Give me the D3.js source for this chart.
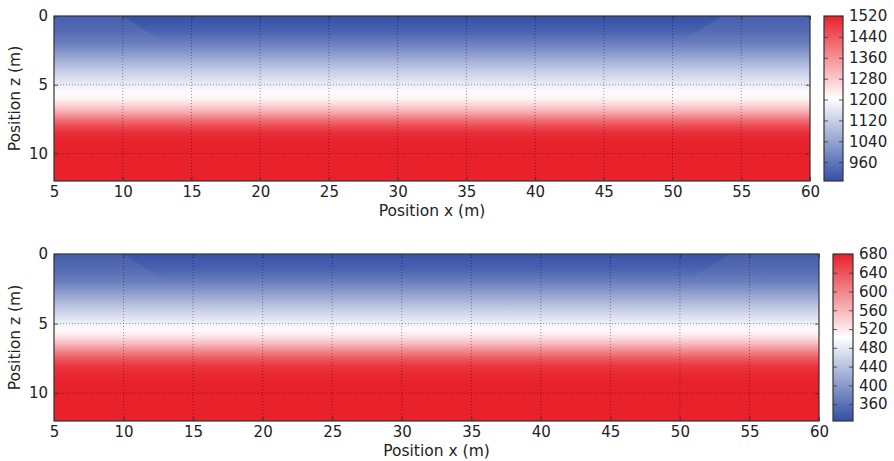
<!DOCTYPE html>
<html>
<head>
<meta charset="utf-8">
<script src="https://cdn.jsdelivr.net/npm/d3@7/dist/d3.min.js"></script>
<style>
  html, body { margin: 0; padding: 0; background: #fff; }
  svg { display: block; }
  text { font-family: "DejaVu Sans", sans-serif; fill: #222; }
</style>
</head>
<body>
<svg id="chart" width="894" height="461"></svg>
<script>
// Axis ticks
const xTicks = [5, 10, 15, 20, 25, 30, 35, 40, 45, 50, 55, 60];
const zTicks = [0, 5, 10];
const xDomain = [5, 60];
const zDomain = [0, 12];

// Depth samples (m) of the velocity profile under the covered span
const depths = [0, 1, 2, 3, 4, 5, 5.5, 6, 6.5, 7, 7.5, 8, 8.5, 9, 10, 12];
const upperProfile = [892, 918, 975, 1045, 1115, 1172, 1198, 1220, 1265, 1325, 1400, 1460, 1500, 1515, 1520, 1520];
const lowerProfile = [328, 343, 372, 412, 452, 488, 506, 527, 562, 600, 635, 660, 672, 678, 680, 680];

// Shallow profile outside the covered span (left and right flanks)
const flankDepths = [0, 1, 2];
const upperFlank = [918, 938, 975];
const lowerFlank = [340, 352, 372];

// Covered span boundaries: [x at surface, x at flank base depth]
const coverLeft = [10.0, 13.1];
const coverRight = [53.6, 50.4];

// Colour bar ranges and ticks
const upperRange = [888, 1520];
const lowerRange = [324, 680];
const upperBarTicks = [960, 1040, 1120, 1200, 1280, 1360, 1440, 1520];
const lowerBarTicks = [360, 400, 440, 480, 520, 560, 600, 640, 680];

const BLUE = "#334ea5", WHITE = "#ffffff", RED = "#e8212b";

const panels = [
  { id: "up", profile: upperProfile, flank: upperFlank, range: upperRange, barTicks: upperBarTicks,
    plot: { x0: 54, x1: 810, y0: 16, y1: 181 }, bar: { x0: 824, x1: 843 } },
  { id: "lo", profile: lowerProfile, flank: lowerFlank, range: lowerRange, barTicks: lowerBarTicks,
    plot: { x0: 54, x1: 819, y0: 254, y1: 421 }, bar: { x0: 833, x1: 853 } }
];

const svg = d3.select("#chart");
const defs = svg.append("defs");

panels.forEach(p => {
  const x = d3.scaleLinear().domain(xDomain).range([p.plot.x0, p.plot.x1]);
  const z = d3.scaleLinear().domain(zDomain).range([p.plot.y0, p.plot.y1]);
  const mid = (p.range[0] + p.range[1]) / 2;
  const colour = d3.scaleLinear().domain([p.range[0], mid, p.range[1]])
    .range([BLUE, WHITE, RED]).interpolate(d3.interpolateRgb).clamp(true);

  // vertical gradient of the main profile
  const gMain = defs.append("linearGradient").attr("id", "main-" + p.id)
    .attr("gradientUnits", "userSpaceOnUse")
    .attr("x1", 0).attr("x2", 0).attr("y1", z(zDomain[0])).attr("y2", z(zDomain[1]));
  depths.forEach((d, i) => {
    gMain.append("stop").attr("offset", (d - zDomain[0]) / (zDomain[1] - zDomain[0]))
      .attr("stop-color", colour(p.profile[i]));
  });

  // vertical gradient of the flank profile
  const fBase = flankDepths[flankDepths.length - 1];
  const gFlank = defs.append("linearGradient").attr("id", "flank-" + p.id)
    .attr("gradientUnits", "userSpaceOnUse")
    .attr("x1", 0).attr("x2", 0).attr("y1", z(0)).attr("y2", z(fBase));
  flankDepths.forEach((d, i) => {
    gFlank.append("stop").attr("offset", d / fBase).attr("stop-color", colour(p.flank[i]));
  });

  defs.append("clipPath").attr("id", "clip-" + p.id).append("rect")
    .attr("x", p.plot.x0).attr("y", p.plot.y0)
    .attr("width", p.plot.x1 - p.plot.x0).attr("height", p.plot.y1 - p.plot.y0);

  const g = svg.append("g");
  const field = g.append("g").attr("clip-path", `url(#clip-${p.id})`);

  field.append("rect")
    .attr("x", p.plot.x0).attr("y", p.plot.y0)
    .attr("width", p.plot.x1 - p.plot.x0).attr("height", p.plot.y1 - p.plot.y0)
    .attr("fill", `url(#main-${p.id})`);

  const line = d3.line().x(d => x(d[0])).y(d => z(d[1]));
  const leftFlank = [[xDomain[0], 0], [coverLeft[0], 0], [coverLeft[1], fBase], [xDomain[0], fBase]];
  const rightFlank = [[xDomain[1], 0], [coverRight[0], 0], [coverRight[1], fBase], [xDomain[1], fBase]];
  [leftFlank, rightFlank].forEach(poly => {
    field.append("path").attr("d", line(poly) + "Z").attr("fill", `url(#flank-${p.id})`);
  });

  // dotted grid
  const grid = g.append("g").attr("clip-path", `url(#clip-${p.id})`)
    .attr("stroke", "#000").attr("stroke-opacity", 0.5).attr("stroke-width", 0.8)
    .attr("stroke-dasharray", "1,2");
  xTicks.slice(1, -1).forEach(t => {
    grid.append("line").attr("x1", x(t)).attr("x2", x(t)).attr("y1", p.plot.y0).attr("y2", p.plot.y1);
  });
  zTicks.slice(1).forEach(t => {
    grid.append("line").attr("x1", p.plot.x0).attr("x2", p.plot.x1).attr("y1", z(t)).attr("y2", z(t));
  });

  // axes with inward ticks
  const xAx = g.append("g").attr("transform", `translate(0,${p.plot.y1})`)
    .call(d3.axisBottom(x).tickValues(xTicks).tickSize(-4).tickPadding(5).tickFormat(d3.format("d")));
  g.append("g").attr("transform", `translate(0,${p.plot.y0})`)
    .call(d3.axisTop(x).tickValues(xTicks).tickSize(-4).tickFormat(""));
  g.append("g").attr("transform", `translate(${p.plot.x0},0)`)
    .call(d3.axisLeft(z).tickValues(zTicks).tickSize(-4).tickPadding(6).tickFormat(d3.format("d")));
  g.append("g").attr("transform", `translate(${p.plot.x1},0)`)
    .call(d3.axisRight(z).tickValues(zTicks).tickSize(-4).tickFormat(""));
  g.selectAll(".domain").remove();
  g.selectAll(".tick line").attr("stroke", "#333").attr("stroke-width", 0.8);
  g.selectAll(".tick text").attr("font-size", 15).attr("font-family", "DejaVu Sans, sans-serif").attr("fill", "#222");
  xAx.selectAll(".tick text").attr("dy", "0.71em");

  g.append("rect")
    .attr("x", p.plot.x0).attr("y", p.plot.y0)
    .attr("width", p.plot.x1 - p.plot.x0).attr("height", p.plot.y1 - p.plot.y0)
    .attr("fill", "none").attr("stroke", "#333").attr("stroke-width", 1.2);

  g.append("text")
    .attr("x", (p.plot.x0 + p.plot.x1) / 2).attr("y", p.plot.y1 + 35)
    .attr("text-anchor", "middle").attr("font-size", 15.5)
    .text("Position x (m)");
  g.append("text")
    .attr("transform", `translate(20,${(p.plot.y0 + p.plot.y1) / 2}) rotate(-90)`)
    .attr("text-anchor", "middle").attr("font-size", 15.5)
    .text("Position z (m)");

  // colour bar
  const v = d3.scaleLinear().domain(p.range).range([p.plot.y1, p.plot.y0]);
  const gBar = defs.append("linearGradient").attr("id", "bar-" + p.id)
    .attr("x1", 0).attr("x2", 0).attr("y1", 1).attr("y2", 0);
  [p.range[0], mid, p.range[1]].forEach(val => {
    gBar.append("stop").attr("offset", (val - p.range[0]) / (p.range[1] - p.range[0]))
      .attr("stop-color", colour(val));
  });
  g.append("rect")
    .attr("x", p.bar.x0).attr("y", p.plot.y0)
    .attr("width", p.bar.x1 - p.bar.x0).attr("height", p.plot.y1 - p.plot.y0)
    .attr("fill", `url(#bar-${p.id})`).attr("stroke", "#333").attr("stroke-width", 1.2);
  const barAx = g.append("g").attr("transform", `translate(${p.bar.x1},0)`)
    .call(d3.axisRight(v).tickValues(p.barTicks).tickSize(-4).tickPadding(6).tickFormat(d3.format("d")));
  barAx.select(".domain").remove();
  barAx.selectAll(".tick line").attr("stroke", "#333").attr("stroke-width", 0.8);
  barAx.selectAll(".tick text").attr("font-size", 15).attr("font-family", "DejaVu Sans, sans-serif").attr("fill", "#222");
  g.append("g").attr("transform", `translate(${p.bar.x0},0)`)
    .call(d3.axisLeft(v).tickValues(p.barTicks).tickSize(-4).tickFormat(""))
    .call(s => s.select(".domain").remove())
    .selectAll(".tick line").attr("stroke", "#333").attr("stroke-width", 0.8);
});
</script>
</body>
</html>
